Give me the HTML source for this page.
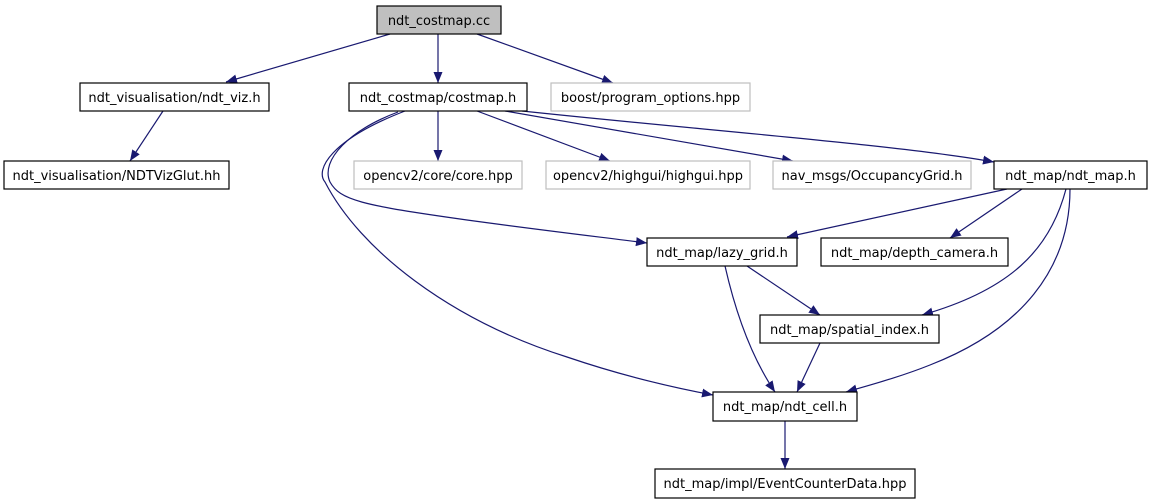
<!DOCTYPE html>
<html><head><meta charset="utf-8"><style>
html,body{margin:0;padding:0;background:#fff;width:1152px;height:504px;overflow:hidden}
svg{display:block}
text{font-family:"DejaVu Sans","Liberation Sans",sans-serif;font-size:13px;fill:#000}
</style></head><body>
<svg width="1152" height="504" viewBox="0 0 1152 504" xmlns="http://www.w3.org/2000/svg">
<defs>
<marker id="a" markerUnits="userSpaceOnUse" markerWidth="12" markerHeight="10" refX="11" refY="4.5" orient="auto">
<path d="M0,0 L11,4.5 L0,9 Z" fill="#191970"/>
</marker>
</defs>
<g fill="none" stroke="#191970" stroke-width="1.2" marker-end="url(#a)">
<path d="M390,34 L226,82"/>
<path d="M438,34 L438,83"/>
<path d="M477,34 L613,83"/>
<path d="M163,111 L130,161"/>
<path d="M438,111 L438,161"/>
<path d="M477,111 L610,161"/>
<path d="M505,111 L793,161"/>
<path d="M522,111 C700,130 900,145 994,162"/>
<path d="M398,112 C350,130 320,160 330,182 C340,200 360,205 467,220 C540,230 600,237 647,243"/>
<path d="M405,111 C330,140 315,170 325,182 C360,250 450,320 567,357 C620,375 670,387 713,395"/>
<path d="M1007,189 L787,237"/>
<path d="M1022,189 L950,238"/>
<path d="M747,266 L820,315"/>
<path d="M725,266 C735,310 750,355 775,392"/>
<path d="M820,343 L797,392"/>
<path d="M785,421 L785,469"/>
<path d="M1066,189 C1050,250 1010,290 922,315"/>
<path d="M1070,189 C1070,270 1020,330 930,365 C900,377 870,385 846,392"/>
</g>
<g stroke-width="1.2">
<rect x="377" y="6" width="124" height="28" fill="#bfbfbf" stroke="#000"/>
<rect x="80" y="83" width="189" height="28" fill="#fff" stroke="#000"/>
<rect x="4" y="161" width="225" height="28" fill="#fff" stroke="#000"/>
<rect x="349" y="83" width="178" height="28" fill="#fff" stroke="#000"/>
<rect x="551" y="83" width="199" height="28" fill="#fff" stroke="#bfbfbf"/>
<rect x="354" y="161" width="168" height="28" fill="#fff" stroke="#bfbfbf"/>
<rect x="546" y="161" width="204" height="28" fill="#fff" stroke="#bfbfbf"/>
<rect x="773" y="161" width="198" height="28" fill="#fff" stroke="#bfbfbf"/>
<rect x="994" y="161" width="153" height="28" fill="#fff" stroke="#000"/>
<rect x="647" y="238" width="150" height="28" fill="#fff" stroke="#000"/>
<rect x="821" y="238" width="187" height="28" fill="#fff" stroke="#000"/>
<rect x="760" y="315" width="179" height="28" fill="#fff" stroke="#000"/>
<rect x="713" y="392" width="144" height="29" fill="#fff" stroke="#000"/>
<rect x="655" y="469" width="260" height="29" fill="#fff" stroke="#000"/>
</g>
<g text-anchor="middle">
<text x="439" y="25">ndt_costmap.cc</text>
<text x="174.5" y="102">ndt_visualisation/ndt_viz.h</text>
<text x="116.5" y="180">ndt_visualisation/NDTVizGlut.hh</text>
<text x="438" y="102">ndt_costmap/costmap.h</text>
<text x="650.5" y="102">boost/program_options.hpp</text>
<text x="438" y="180">opencv2/core/core.hpp</text>
<text x="648" y="180">opencv2/highgui/highgui.hpp</text>
<text x="872" y="180">nav_msgs/OccupancyGrid.h</text>
<text x="1070.5" y="180">ndt_map/ndt_map.h</text>
<text x="722" y="257">ndt_map/lazy_grid.h</text>
<text x="914.5" y="257">ndt_map/depth_camera.h</text>
<text x="849.5" y="334">ndt_map/spatial_index.h</text>
<text x="785" y="411">ndt_map/ndt_cell.h</text>
<text x="785" y="488">ndt_map/impl/EventCounterData.hpp</text>
</g>
</svg>
</body></html>
